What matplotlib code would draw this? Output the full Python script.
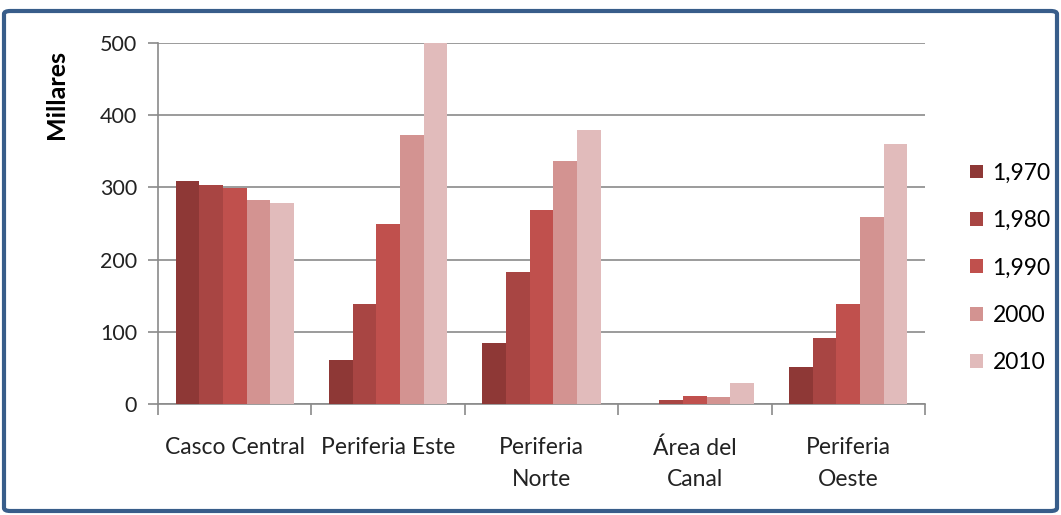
import matplotlib
matplotlib.use("Agg")
import matplotlib.pyplot as plt
import numpy as np
from matplotlib.patches import FancyBboxPatch

categories = ["Casco Central", "Periferia Este", "Periferia\nNorte", "Área del\nCanal", "Periferia\nOeste"]
series_names = ["1,970", "1,980", "1,990", "2000", "2010"]
values = {
    "1,970": [309, 61, 84, 0, 51],
    "1,980": [304, 139, 183, 6, 91],
    "1,990": [299, 249, 269, 11.5, 138],
    "2000": [283, 373, 336, 9.7, 259],
    "2010": [278, 500, 380, 29, 360],
}
colors = ["#8E3836", "#A84543", "#C0504D", "#D39391", "#E1BBBB"]
yticks = [0, 100, 200, 300, 400, 500]

plt.rcParams['font.family'] = ['Lato', 'DejaVu Sans']

fig = plt.figure(figsize=(10.61, 5.15), dpi=100)
ax = fig.add_axes([158/1061, 1-404/515, (925-158)/1061, (404-43)/515])

x = np.arange(len(categories))
w = 0.154
for i, name in enumerate(series_names):
    ax.bar(x + (i - 2) * w, values[name], width=w, color=colors[i], label=name, zorder=3)

ax.set_xlim(-0.5, len(categories) - 0.5)
ax.set_ylim(0, 500)
ax.set_yticks(yticks)
ax.set_yticklabels([str(t) for t in yticks], fontsize=15.5, color="#222222")
ax.yaxis.grid(True, color="#8a8a8a", linewidth=1.2, zorder=0)
ax.set_axisbelow(True)

ax.set_xticks(np.arange(len(categories) + 1) - 0.5, minor=False)
ax.set_xticklabels([])
ax.set_xticks(x, minor=True)
ax.set_xticklabels(categories, minor=True, fontsize=16.5, color="#222222", linespacing=1.6)
ax.tick_params(axis='x', which='minor', length=0, pad=24)
ax.tick_params(axis='x', which='major', length=8, color="#8a8a8a", width=1.2)
ax.tick_params(axis='y', length=7, color="#8a8a8a", width=1.2, pad=8)

for s in ["top", "right"]:
    ax.spines[s].set_visible(False)
for s in ["left", "bottom"]:
    ax.spines[s].set_color("#8a8a8a")
    ax.spines[s].set_linewidth(1.2)

ax.set_ylabel("Millares", fontsize=18, fontweight="bold")
ax.yaxis.set_label_coords(-0.117, 0.856)

leg = ax.legend(loc="center left", bbox_to_anchor=(1.032, 0.377), frameon=False,
                fontsize=16.5, handlelength=0.55, handleheight=0.55, labelspacing=1.15,
                handletextpad=0.42)

border = FancyBboxPatch((4/1061, 4/515), 1053/1061, (512-12)/515,
                        boxstyle="round,pad=0,rounding_size=0.006",
                        transform=fig.transFigure, fill=False,
                        edgecolor="#385D8A", linewidth=3)
fig.patches.append(border)

fig.savefig("out.png", dpi=100)
